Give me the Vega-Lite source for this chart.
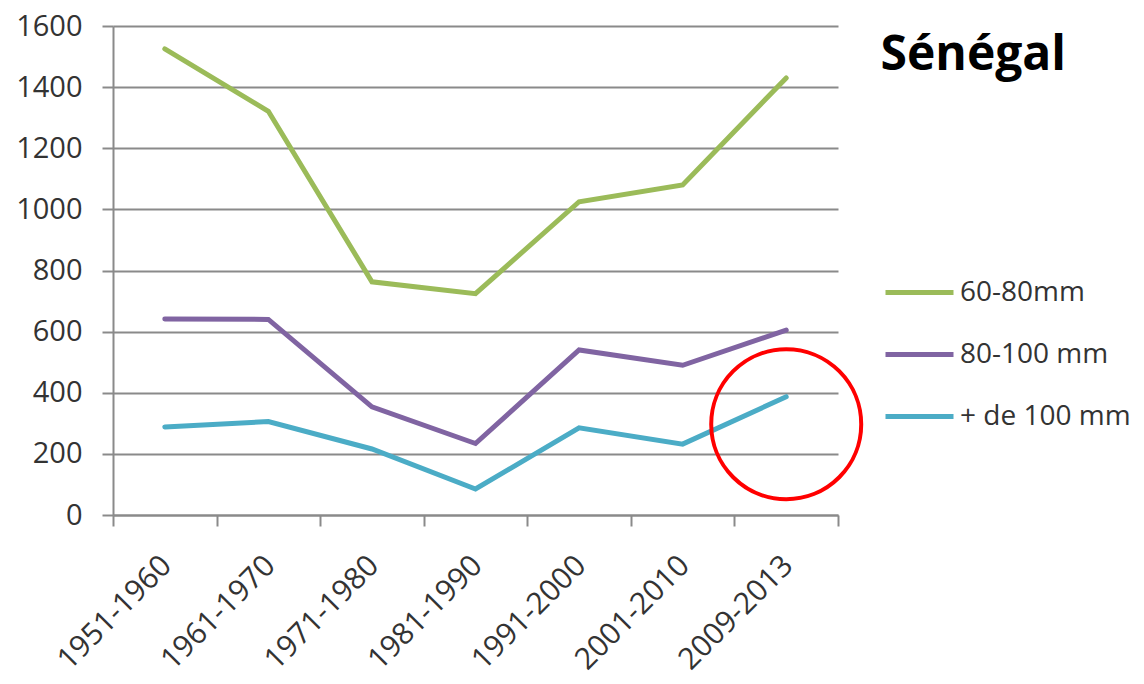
{
  "$schema": "https://vega.github.io/schema/vega-lite/v6.json",
  "width": 725,
  "height": 489,
  "autosize": {"type": "none"},
  "padding": {"left": 113, "top": 26, "right": 306, "bottom": 169},
  "background": "white",
  "config": {"view": {"stroke": null}, "font": "Open Sans"},
  "title": {
    "text": "Sénégal",
    "anchor": "end",
    "frame": "group",
    "orient": "top",
    "font": "Open Sans",
    "fontWeight": "bold",
    "fontSize": 48,
    "color": "#000000",
    "dx": 228,
    "dy": 110,
    "baseline": "alphabetic"
  },
  "datasets": {
    "series": [
      {"period": "1951-1960", "series": "60-80mm", "value": 1525},
      {"period": "1961-1970", "series": "60-80mm", "value": 1321},
      {"period": "1971-1980", "series": "60-80mm", "value": 763},
      {"period": "1981-1990", "series": "60-80mm", "value": 724},
      {"period": "1991-2000", "series": "60-80mm", "value": 1025},
      {"period": "2001-2010", "series": "60-80mm", "value": 1080},
      {"period": "2009-2013", "series": "60-80mm", "value": 1430},
      {"period": "1951-1960", "series": "80-100 mm", "value": 641},
      {"period": "1961-1970", "series": "80-100 mm", "value": 640},
      {"period": "1971-1980", "series": "80-100 mm", "value": 354},
      {"period": "1981-1990", "series": "80-100 mm", "value": 234},
      {"period": "1991-2000", "series": "80-100 mm", "value": 540},
      {"period": "2001-2010", "series": "80-100 mm", "value": 490},
      {"period": "2009-2013", "series": "80-100 mm", "value": 605},
      {"period": "1951-1960", "series": "+ de 100 mm", "value": 288},
      {"period": "1961-1970", "series": "+ de 100 mm", "value": 306},
      {"period": "1971-1980", "series": "+ de 100 mm", "value": 216},
      {"period": "1981-1990", "series": "+ de 100 mm", "value": 85},
      {"period": "1991-2000", "series": "+ de 100 mm", "value": 285},
      {"period": "2001-2010", "series": "+ de 100 mm", "value": 232},
      {"period": "2009-2013", "series": "+ de 100 mm", "value": 387}
    ],
    "highlight": [
      {"period": "2009-2013", "value": 297}
    ]
  },
  "layer": [
    {
      "data": {"name": "series"},
      "mark": {"type": "line", "strokeWidth": 5, "strokeCap": "round", "strokeJoin": "miter"},
      "encoding": {
        "x": {
          "field": "period",
          "type": "ordinal",
          "bandPosition": 0.5,
          "sort": null,
          "scale": {"type": "band", "paddingInner": 0, "paddingOuter": 0},
          "axis": {
            "title": null,
            "labelAngle": -45,
            "labelFontSize": 30,
            "labelColor": "#333333",
            "labelPadding": 24,
            "labelOffset": -9,
            "tickBand": "extent",
            "tickSize": 11,
            "tickWidth": 2,
            "tickColor": "#8a8a8a",
            "domainColor": "#8a8a8a",
            "domainWidth": 2,
            "grid": false
          }
        },
        "y": {
          "field": "value",
          "type": "quantitative",
          "scale": {"domain": [0, 1600], "nice": false},
          "axis": {
            "title": null,
            "format": "d",
            "values": [0, 200, 400, 600, 800, 1000, 1200, 1400, 1600],
            "labelFontSize": 29,
            "labelColor": "#333333",
            "labelPadding": 20,
            "tickSize": 11,
            "tickWidth": 2,
            "tickColor": "#8a8a8a",
            "domain": true,
            "domainColor": "#8a8a8a",
            "domainWidth": 2,
            "grid": true,
            "gridColor": "#8a8a8a",
            "gridWidth": 2
          }
        },
        "color": {
          "field": "series",
          "type": "nominal",
          "sort": ["60-80mm", "80-100 mm", "+ de 100 mm"],
          "scale": {
            "domain": ["60-80mm", "80-100 mm", "+ de 100 mm"],
            "range": ["#9BBB59", "#8064A2", "#4BACC6"]
          },
          "legend": {
            "title": null,
            "orient": "none",
            "legendX": 770,
            "legendY": 230,
            "symbolType": "stroke",
            "symbolSize": 4624,
            "symbolStrokeWidth": 5,
            "labelFontSize": 28,
            "labelLimit": 0,
            "labelColor": "#333333",
            "labelOffset": 4,
            "rowPadding": 11
          }
        }
      }
    },
    {
      "data": {"name": "highlight"},
      "mark": {"type": "point", "shape": "circle", "filled": false, "stroke": "#FF0000", "strokeWidth": 4, "size": 22500, "opacity": 1},
      "encoding": {
        "x": {"field": "period", "type": "ordinal", "bandPosition": 0.5},
        "y": {"field": "value", "type": "quantitative"}
      }
    }
  ]
}
